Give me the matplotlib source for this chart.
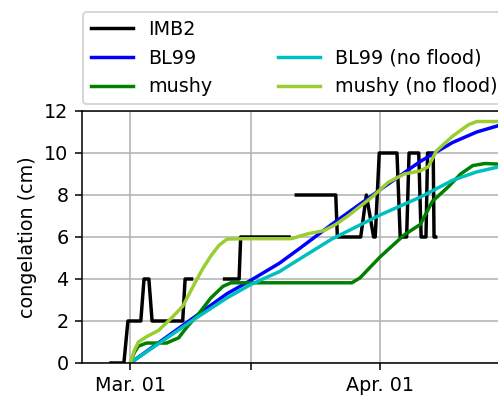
import numpy as np
import matplotlib
matplotlib.use("Agg")
from matplotlib import pyplot as plt
from matplotlib.lines import Line2D

# days since Mar. 01
imb2_day = [-2.4, -0.8, -0.3, 1.3, 1.7, 2.3, 2.7, 6.5, 6.8, 7.6, np.nan,
            11.7, 13.5, 13.7, 19.7, np.nan,
            20.6, 25.5, 25.7, 28.6, 29.3, 30.2, 30.4, 30.9, 33.1, 33.5, 34.3,
            34.6, 35.8, 36.1, 36.7, 36.9, 37.6, 37.7, 37.9]
imb2_cong = [0, 0, 2, 2, 4, 4, 2, 2, 4, 4, np.nan,
             4, 4, 6, 6, np.nan,
             8, 8, 6, 6, 8, 6, 6, 10, 10, 6, 6,
             10, 10, 6, 6, 10, 10, 6, 6]

bl99_day = [0, 4, 8, 12, 15, 18.5, 21, 25, 31, 36, 38, 40, 43, 47]
bl99_cong = [0, 1.1, 2.2, 3.3, 3.95, 4.75, 5.45, 6.6, 8.25, 9.6, 10.05, 10.5, 11.0, 11.45]

bl99_nf_day = [0, 4, 8, 12, 15, 18.5, 21, 25, 31, 36, 40, 43, 47]
bl99_nf_cong = [0, 1.05, 2.1, 3.1, 3.75, 4.35, 4.95, 5.9, 7.05, 7.9, 8.7, 9.1, 9.45]

mushy_day = [0, 0.5, 1, 2, 4.5, 6, 7, 8.5, 10, 11.5, 12.5, 27.5, 28.5, 31, 34, 36,
             37.5, 39.5, 41, 42.5, 44, 47]
mushy_cong = [0, 0.5, 0.8, 0.95, 0.95, 1.2, 1.7, 2.35, 3.1, 3.65, 3.82, 3.82, 4.05, 5.05,
              6.1, 6.6, 7.7, 8.4, 9.0, 9.4, 9.5, 9.45]

mushy_nf_day = [0, 0.5, 1, 2, 3.5, 5, 6.5, 8, 9, 10, 11, 12, 14, 20, 22, 24, 25.5, 27,
                30, 32, 34, 36, 37, 38, 40, 42, 43, 47]
mushy_nf_cong = [0, 0.6, 1.0, 1.25, 1.55, 2.1, 2.7, 3.8, 4.5, 5.1, 5.6, 5.9, 5.92, 5.92,
                 6.15, 6.3, 6.6, 7.0, 7.9, 8.6, 9.0, 9.15, 9.35, 10.1, 10.8, 11.35, 11.5, 11.5]

tick_days = [0, 15, 31]
tick_labels = ["Mar. 01", "", "Apr. 01"]

dpi = 138
fig = plt.figure(figsize=(498 / dpi, 399 / dpi), dpi=dpi)
ax = fig.add_axes([82 / 498, 36 / 399, 435 / 498, 252 / 399])

lw = 1.8
ax.plot(imb2_day, imb2_cong, color="black", lw=lw, label="IMB2")
ax.plot(bl99_day, bl99_cong, color="blue", lw=lw, label="BL99")
ax.plot(mushy_day, mushy_cong, color="green", lw=lw, label="mushy")
ax.plot(bl99_nf_day, bl99_nf_cong, color="c", lw=lw, label="BL99 (no flood)")
ax.plot(mushy_nf_day, mushy_nf_cong, color="yellowgreen", lw=lw, label="mushy (no flood)")

ax.set_xlim(-6, 48)
ax.set_ylim(0, 12)
ax.set_yticks(range(0, 13, 2))
ax.set_xticks(tick_days)
ax.set_xticklabels(tick_labels)
ax.set_ylabel("congelation (cm)")
ax.grid(True)

# empty slot so the no-flood runs line up in the second column
h, l = ax.get_legend_handles_labels()
blank = Line2D([], [], color="none")
handles = [h[0], h[1], h[2], blank, h[3], h[4]]
labels = [l[0], l[1], l[2], "", l[3], l[4]]
fig.legend(handles, labels, ncol=2, loc="lower left",
           bbox_to_anchor=(83 / 498, (399 - 104) / 399), borderaxespad=0,
           handlelength=2.2, columnspacing=3.4)

fig.savefig("out.png", dpi=dpi)
